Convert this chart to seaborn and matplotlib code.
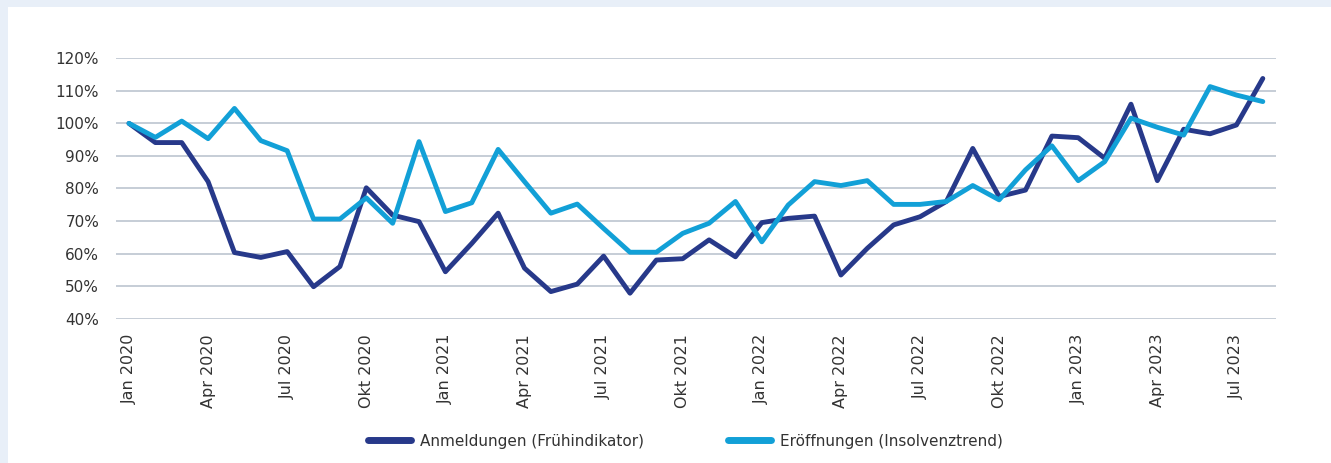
import matplotlib
matplotlib.use("Agg")
import matplotlib.pyplot as plt
from matplotlib.patches import Rectangle
from matplotlib.lines import Line2D
import seaborn as sns
import pandas as pd
import numpy as np

# Monthly data Jan 2020 .. Aug 2023 (index relative, %)
months = pd.date_range("2020-01-01", "2023-08-01", freq="MS")
anmeldungen = [100.0, 94.1, 94.1, 82.1, 60.3, 58.8, 60.6, 49.8, 56.0, 80.2, 71.8, 69.8,
               54.4, 63.1, 72.4, 55.5, 48.3, 50.6, 59.2, 47.8, 58.0, 58.4, 64.2, 59.0,
               69.5, 70.8, 71.5, 53.4, 61.6, 68.8, 71.3, 76.0, 92.3, 77.5, 79.5, 96.1,
               95.6, 89.3, 105.9, 82.4, 98.2, 96.8, 99.5, 113.8]
eroeffnungen = [100.0, 95.7, 100.7, 95.3, 104.6, 94.7, 91.6, 70.6, 70.6, 77.1, 69.3, 94.4,
                72.9, 75.6, 92.0, 82.1, 72.4, 75.2, 67.7, 60.4, 60.4, 66.2, 69.3, 76.0,
                63.6, 74.9, 82.1, 80.9, 82.4, 75.1, 75.1, 76.0, 80.9, 76.5, 85.7, 93.1,
                82.4, 88.2, 101.6, 98.8, 96.4, 111.3, 108.7, 106.7]
series_names = ["Anmeldungen (Frühindikator)", "Eröffnungen (Insolvenztrend)"]
colors = ["#27398A", "#12A0D7"]
month_de = {1: "Jan", 4: "Apr", 7: "Jul", 10: "Okt"}
yticks = [40, 50, 60, 70, 80, 90, 100, 110, 120]

idx = np.arange(len(months))
df = pd.DataFrame({
    "idx": np.concatenate([idx, idx]),
    "value": anmeldungen + eroeffnungen,
    "series": [series_names[0]] * len(idx) + [series_names[1]] * len(idx),
})

sns.set_theme(style="white")
plt.rcParams["font.family"] = ["DejaVu Sans"]

fig = plt.figure(figsize=(13.31, 4.63), dpi=100)
fig.patch.set_facecolor("#E8EFF8")
fig.patches.append(Rectangle((8 / 1331, 0), 1, 1 - 7 / 463, transform=fig.transFigure,
                             facecolor="white", edgecolor="none", zorder=-10))
ax = fig.add_axes([115.8 / 1331, 1 - 318.6 / 463, (1276 - 115.8) / 1331, (318.6 - 58.3) / 463])
ax.set_zorder(5)
ax.set_facecolor("none")

sns.lineplot(data=df, x="idx", y="value", hue="series", palette=colors,
             hue_order=series_names, linewidth=3.5, ax=ax, legend=False, zorder=3)

ax.set_xlim(-0.5, len(idx) - 0.5)
ax.set_ylim(40, 120)
ax.set_yticks(yticks)
ax.set_yticklabels([f"{v}%" for v in yticks], fontsize=11, color="#333333")
tick_pos = [i for i, m in enumerate(months) if m.month in month_de]
tick_lab = [f"{month_de[months[i].month]} {months[i].year}" for i in tick_pos]
ax.set_xticks(tick_pos)
ax.set_xticklabels(tick_lab, rotation=90, fontsize=11.5, color="#333333")
ax.tick_params(axis="both", length=0)
ax.tick_params(axis="y", pad=12)
ax.tick_params(axis="x", pad=11)
ax.grid(axis="y", color="#BCC5CF", linewidth=1.2)
ax.grid(axis="x", visible=False)
ax.set_axisbelow(True)
for s in ax.spines.values():
    s.set_visible(False)
ax.set_xlabel("")
ax.set_ylabel("")

handles = [Line2D([0], [0], color=c, lw=5, solid_capstyle="round") for c in colors]
fig.legend(handles, series_names, loc="center", bbox_to_anchor=(0.515, 0.047), ncol=2,
           frameon=False, fontsize=11, handlelength=2.8, columnspacing=5.5,
           handletextpad=0.6, labelcolor="#333333")

fig.savefig("out.png", dpi=100, facecolor=fig.get_facecolor())
